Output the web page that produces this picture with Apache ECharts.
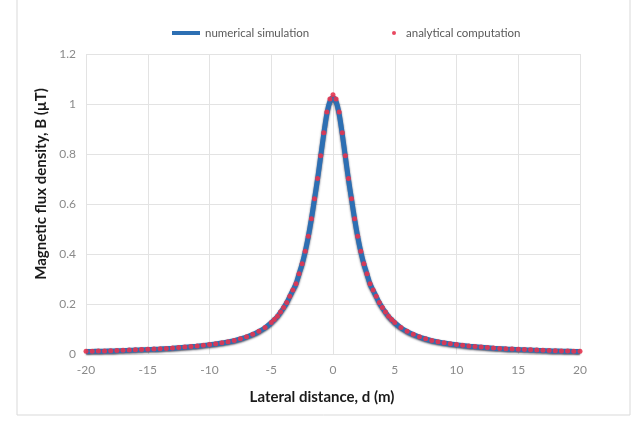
<!DOCTYPE html>
<html>
<head>
<meta charset="utf-8">
<script src="https://cdn.jsdelivr.net/npm/echarts@6/dist/echarts.min.js"></script>
<style>
  html, body { margin: 0; padding: 0; background: #fff; }
  #chart { width: 638px; height: 426px; }
</style>
</head>
<body>
<div id="chart"></div>
<script>
// lateral distance (m)
var distance = [
  -20, -19.5, -19, -18.5, -18, -17.5, -17, -16.5, -16, -15.5, -15, -14.5, -14, -13.5, -13, -12.5,
  -12, -11.5, -11, -10.5, -10, -9.5, -9, -8.5, -8, -7.5, -7, -6.5, -6, -5.5, -5,
  -4.75, -4.5, -4.25, -4, -3.75, -3.5, -3.25, -3, -2.75, -2.5, -2.25, -2, -1.75, -1.5, -1.25, -1,
  -0.75, -0.5, -0.25, 0, 0.25, 0.5, 0.75,
  1, 1.25, 1.5, 1.75, 2, 2.25, 2.5, 2.75, 3, 3.25, 3.5, 3.75, 4, 4.25, 4.5, 4.75,
  5, 5.5, 6, 6.5, 7, 7.5, 8, 8.5, 9, 9.5, 10, 10.5, 11, 11.5, 12, 12.5,
  13, 13.5, 14, 14.5, 15, 15.5, 16, 16.5, 17, 17.5, 18, 18.5, 19, 19.5, 20
];
// numerical simulation B (uT)
var numerical = [
  0.010, 0.0105, 0.011, 0.0115, 0.012, 0.013, 0.014, 0.015, 0.016, 0.017, 0.018, 0.019, 0.020, 0.0215, 0.023, 0.025,
  0.027, 0.029, 0.031, 0.034, 0.037, 0.040, 0.044, 0.048, 0.053, 0.060, 0.068, 0.078, 0.090, 0.105, 0.125,
  0.137, 0.150, 0.167, 0.185, 0.205, 0.230, 0.255, 0.280, 0.320, 0.360, 0.410, 0.470, 0.540, 0.620, 0.700, 0.790,
  0.880, 0.960, 1.010, 1.025, 1.010, 0.960, 0.880,
  0.790, 0.700, 0.620, 0.540, 0.470, 0.410, 0.360, 0.320, 0.280, 0.255, 0.230, 0.205, 0.185, 0.167, 0.150, 0.137,
  0.125, 0.105, 0.090, 0.078, 0.068, 0.060, 0.053, 0.048, 0.044, 0.040, 0.037, 0.034, 0.031, 0.029, 0.027, 0.025,
  0.023, 0.0215, 0.020, 0.019, 0.018, 0.017, 0.016, 0.015, 0.014, 0.013, 0.012, 0.0115, 0.011, 0.0105, 0.010
];
// analytical computation B (uT)
var analytical = [
  0.011, 0.0115, 0.012, 0.0125, 0.013, 0.014, 0.015, 0.016, 0.017, 0.018, 0.019, 0.020, 0.021, 0.0225, 0.024, 0.026,
  0.028, 0.030, 0.032, 0.035, 0.038, 0.041, 0.045, 0.049, 0.054, 0.061, 0.069, 0.079, 0.091, 0.106, 0.126,
  0.138, 0.151, 0.168, 0.186, 0.206, 0.231, 0.256, 0.281, 0.321, 0.361, 0.411, 0.471, 0.541, 0.621, 0.702, 0.793,
  0.885, 0.968, 1.020, 1.037, 1.020, 0.968, 0.885,
  0.793, 0.702, 0.621, 0.541, 0.471, 0.411, 0.361, 0.321, 0.281, 0.256, 0.231, 0.206, 0.186, 0.168, 0.151, 0.138,
  0.126, 0.106, 0.091, 0.079, 0.069, 0.061, 0.054, 0.049, 0.045, 0.041, 0.038, 0.035, 0.032, 0.030, 0.028, 0.026,
  0.024, 0.0225, 0.021, 0.020, 0.019, 0.018, 0.017, 0.016, 0.015, 0.014, 0.013, 0.0125, 0.012, 0.0115, 0.011
];

var xTicks = { min: -20, max: 20, interval: 5 };
var yTicks = { min: 0, max: 1.2, interval: 0.2 };

function pairs(xs, ys) {
  var out = [];
  for (var i = 0; i < xs.length; i++) out.push([xs[i], ys[i]]);
  return out;
}

var font = 'Lato';
var chart = echarts.init(document.getElementById('chart'));

var option = {
  animation: false,
  textStyle: { fontFamily: font },
  graphic: [{
    type: 'rect',
    shape: { x: 17, y: -2, width: 613, height: 417 },
    style: { fill: 'none', stroke: '#d9d9d9', lineWidth: 1 },
    silent: true
  }],
  legend: [
    {
      data: ['numerical simulation'],
      left: 167, top: 22,
      icon: 'rect', itemWidth: 28, itemHeight: 4, itemGap: 5,
      textStyle: { color: '#595959', fontSize: 11.5, fontFamily: font }
    },
    {
      data: ['analytical computation'],
      left: 387, top: 22,
      icon: 'circle', itemWidth: 4, itemHeight: 4,
      textStyle: { color: '#595959', fontSize: 11.5, fontFamily: font, padding: [0, 0, 0, 5] }
    }
  ],
  grid: { left: 86, right: 58, top: 54, bottom: 72 },
  xAxis: {
    type: 'value',
    min: xTicks.min, max: xTicks.max, interval: xTicks.interval,
    name: 'Lateral distance, d (m)',
    nameLocation: 'middle',
    nameGap: 36,
    nameTextStyle: { color: '#1a1a1a', fontSize: 15, fontWeight: 'bold', fontFamily: font, padding: [0, 22, 0, 0] },
    axisLine: { show: false },
    axisTick: { show: false },
    axisLabel: { color: '#8a8a8a', fontSize: 12, margin: 10 },
    splitLine: { show: true, lineStyle: { color: '#e3e3e3' } }
  },
  yAxis: {
    type: 'value',
    min: yTicks.min, max: yTicks.max, interval: yTicks.interval,
    name: 'Magnetic flux density, B (µT)',
    nameLocation: 'middle',
    nameGap: 33,
    nameTextStyle: { color: '#1a1a1a', fontSize: 15, fontWeight: 'bold', fontFamily: font, padding: [0, 0, 0, 40] },
    axisLine: { show: false },
    axisTick: { show: false },
    axisLabel: { color: '#8a8a8a', fontSize: 12, margin: 10 },
    splitLine: { show: true, lineStyle: { color: '#e3e3e3' } }
  },
  series: [
    {
      name: 'numerical simulation',
      type: 'line',
      data: pairs(distance, numerical),
      showSymbol: false,
      smooth: 0.3,
      color: '#2d6fb3',
      lineStyle: { width: 5, color: '#2d6fb3', shadowColor: 'rgba(20,20,40,0.7)', shadowBlur: 2, shadowOffsetY: 1 },
      z: 2
    },
    {
      name: 'analytical computation',
      type: 'scatter',
      data: pairs(distance, analytical),
      symbol: 'circle',
      symbolSize: 5,
      color: '#e6344f',
      itemStyle: { color: '#e6344f', opacity: 0.9 },
      z: 3
    }
  ]
};
chart.setOption(option);
</script>
</body>
</html>
